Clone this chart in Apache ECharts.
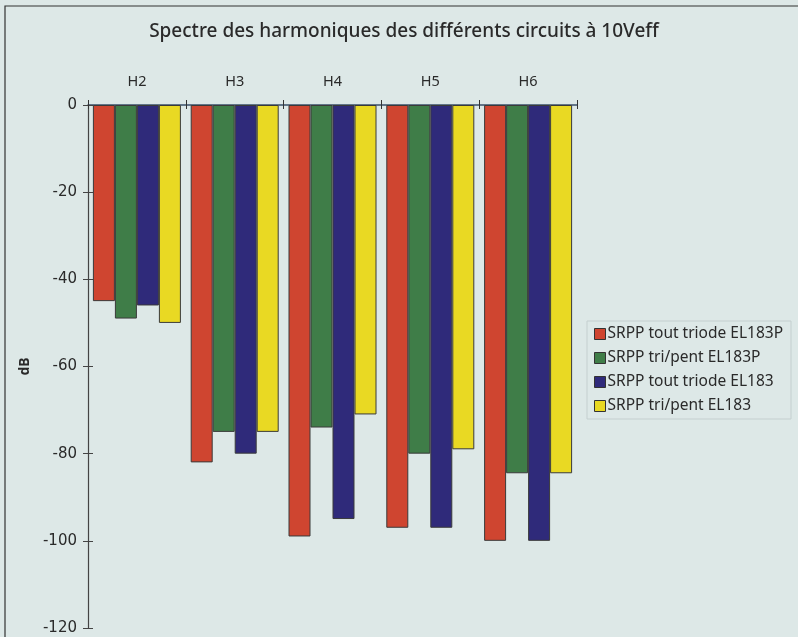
<!DOCTYPE html>
<html>
<head>
<meta charset="utf-8">
<script src="https://cdn.jsdelivr.net/npm/echarts@6/dist/echarts.min.js"></script>
<style>
html,body{margin:0;padding:0;background:#dde8e7;}
#chart{width:798px;height:637px;}
</style>
</head>
<body>
<div id="chart"></div>
<script>
const titleText = "Spectre des harmoniques des différents circuits à 10Veff";
const categories = ["H2", "H3", "H4", "H5", "H6"];
const seriesNames = ["SRPP tout triode EL183P", "SRPP tri/pent EL183P", "SRPP tout triode EL183", "SRPP tri/pent EL183"];
const triodeEL183P = [-45, -82, -99, -97, -100];
const tripentEL183P = [-49, -75, -74, -80, -84.5];
const triodeEL183 = [-46, -80, -95, -97, -100];
const tripentEL183 = [-50, -75, -71, -79, -84.5];
const yTicks = [0, -20, -40, -60, -80, -100, -120];
const colors = ["#cf4530", "#3f7d48", "#2f2a7a", "#e9d923"];

const allValues = [triodeEL183P, tripentEL183P, triodeEL183, tripentEL183];
const chart = echarts.init(document.getElementById('chart'));
const textColor = '#2a2a2a';
const option = {
  backgroundColor: '#dde8e7',
  animation: false,
  color: colors,
  title: {
    text: titleText,
    left: 399, top: 17, textAlign: 'center',
    textStyle: {fontFamily: 'Noto Sans', fontSize: 19, fontWeight: 500, color: textColor}
  },
  legend: {
    orient: 'vertical',
    left: 587, top: 321,
    itemWidth: 11, itemHeight: 11, itemGap: 8,
    padding: [5, 8, 5, 7],
    borderColor: '#c4cfcf', borderWidth: 1,
    textStyle: {fontFamily: 'Noto Sans', fontSize: 15.5, color: textColor, padding: [0,0,0,-3]},
    data: seriesNames.map((n) => ({name: n, icon: 'rect', itemStyle: {borderColor: '#333', borderWidth: 1}}))
  },
  grid: {left: 88, top: 105, right: 221, bottom: 9, containLabel: false},
  xAxis: [{
    type: 'category', position: 'top', data: categories,
    axisLine: {show: true, onZero: false, lineStyle: {color: '#3a4f6a', width: 1.5}},
    axisTick: {show: true, length: 5, inside: false, lineStyle: {color: '#333'}},
    axisLabel: {margin: 16, fontFamily: 'Noto Sans', fontSize: 14.5, color: textColor},
    splitLine: {show: false}
  }, {
    type: 'category', position: 'top', data: categories,
    axisLine: {show: false},
    axisTick: {show: true, length: 4, inside: true, lineStyle: {color: '#333'}},
    axisLabel: {show: false}
  }],
  yAxis: [{
    type: 'value', min: -120, max: 0, interval: 20,
    name: 'dB', nameLocation: 'middle', nameGap: 55, nameRotate: 90,
    nameTextStyle: {fontFamily: 'Noto Sans', fontSize: 14, fontWeight: 'bold', color: textColor},
    axisLine: {show: true, lineStyle: {color: '#444', width: 1.2}},
    axisTick: {show: true, length: 5, lineStyle: {color: '#444'}},
    axisLabel: {margin: 11, fontFamily: 'DejaVu Sans', fontSize: 15, color: textColor,
      formatter: (v) => yTicks.includes(v) ? String(v) : ''},
    splitLine: {show: false}
  }, {
    type: 'value', min: -120, max: 0, interval: 20, position: 'left',
    axisLine: {show: false},
    axisTick: {show: true, inside: true, length: 5, lineStyle: {color: '#444'}},
    axisLabel: {show: false}, splitLine: {show: false}
  }],
  graphic: [{
    type: 'rect', shape: {x: 5, y: 6, width: 820, height: 700},
    style: {fill: 'none', stroke: '#333', lineWidth: 1.2}, silent: true
  }],
  series: seriesNames.map((n, i) => ({
    name: n, type: 'bar', data: allValues[i],
    barWidth: 22, barGap: '0%',
    itemStyle: {color: colors[i], borderColor: '#3a3a3a', borderWidth: 1}
  }))
};
chart.setOption(option);
</script>
</body>
</html>
